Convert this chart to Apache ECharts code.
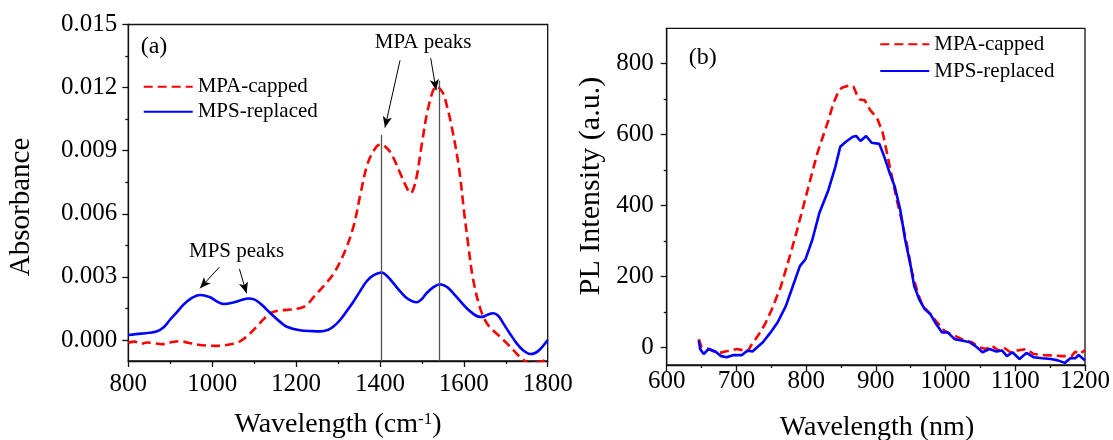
<!DOCTYPE html>
<html>
<head>
<meta charset="utf-8">
<script src="https://cdn.jsdelivr.net/npm/echarts@6/dist/echarts.min.js"></script>
<style>
  html, body { margin: 0; padding: 0; background: #fff; }
  #chart { width: 1113px; height: 440px; }
</style>
</head>
<body>
<div id="chart"></div>
<script>
// ---------- Panel (a): absorbance ----------
const aCappedX = [800,815,830,845,860,880,900,923,945,971,990,1011,1030,1050,1065,1074,1090,1106,1122,1138,1158,1178,1209,1225,1243,1265,1290,1316,1337,1354,1371,1392,1405,1415,1426,1437,1448,1460,1473,1486,1499,1516,1535,1550,1560,1571,1588,1601,1610,1622,1639,1655,1670,1686,1702,1718,1742,1760,1780,1800];
const aCappedY = [-0.00013,-0.00008,-0.00018,-0.00012,-0.00015,-0.00020,-0.00012,-0.00006,-0.00014,-0.00024,-0.00027,-0.00028,-0.00025,-0.00018,-0.00008,0.00003,0.00030,0.00063,0.00098,0.00127,0.00140,0.00143,0.00151,0.00165,0.00206,0.00255,0.00317,0.00420,0.00540,0.00698,0.00841,0.00920,0.00929,0.00915,0.00889,0.00845,0.00794,0.00740,0.00698,0.00762,0.00920,0.01111,0.01206,0.01175,0.01110,0.01016,0.00825,0.00603,0.00460,0.00290,0.00150,0.00079,0.00045,0.00016,-0.00015,-0.00048,-0.00095,-0.00112,-0.00105,-0.00092];
const aReplX = [800,830,867,885,899,915,931,950,971,995,1010,1027,1050,1070,1086,1100,1114,1130,1146,1162,1178,1209,1240,1257,1277,1290,1305,1320,1337,1352,1368,1385,1404,1418,1432,1446,1460,1475,1488,1500,1511,1527,1543,1560,1575,1590,1607,1622,1635,1645,1655,1670,1682,1694,1710,1726,1742,1758,1770,1782,1800];
const aReplY = [0.00024,0.00030,0.00040,0.00062,0.00095,0.00130,0.00167,0.00198,0.00214,0.00203,0.00185,0.00171,0.00178,0.00190,0.00197,0.00193,0.00175,0.00145,0.00114,0.00086,0.00063,0.00046,0.00042,0.00041,0.00049,0.00065,0.00095,0.00135,0.00183,0.00230,0.00278,0.00308,0.00321,0.00302,0.00270,0.00236,0.00206,0.00186,0.00179,0.00195,0.00222,0.00250,0.00265,0.00252,0.00222,0.00188,0.00151,0.00125,0.00111,0.00110,0.00119,0.00127,0.00115,0.00079,0.00030,-0.00016,-0.00050,-0.00067,-0.00062,-0.00044,0.00000];
const aYTicks = [0, 0.003, 0.006, 0.009, 0.012, 0.015];
const aYMinor = [0.0015, 0.0045, 0.0075, 0.0105, 0.0135];
// vertical peak markers (x, top value)
const peakLineX = [1404, 1541];
const peakLineTop = [0.00976, 0.01233];
// annotation arrows: [fromX, fromY, toX, toY]
const arrows = [
  [1448, 0.0133, 1412, 0.0101],
  [1521, 0.0134, 1534, 0.01187],
  [1017, 0.00346, 971, 0.00246],
  [1065, 0.00337, 1082, 0.00222]
];
const annoText = [
  ['MPA peaks', 1503, 0.01414],
  ['MPS peaks', 1058, 0.0042]
];

// ---------- Panel (b): PL ----------
const bReplX = [646,648,653,660,670,678,686,696,708,716,723,731,738,749,759,771,781,791,799,809,819,832,842,849,857,867,872,878,886,894,905,912,920,927,935,942,950,955,962,970,978,985,995,1003,1013,1023,1035,1045,1053,1063,1073,1081,1088,1096,1106,1116,1126,1139,1151,1161,1171,1179,1186,1191,1200];
const bReplY = [19,-5,-19,-5,-12,-25,-28,-22,-22,-9,-12,2,14,42,70,117,173,229,248,304,379,444,510,566,580,594,596,582,596,577,574,538,491,454,388,304,229,173,136,108,94,70,42,42,23,19,14,0,-14,-5,-12,-9,-25,-14,-33,-16,-28,-31,-33,-37,-44,-31,-31,-22,-37];
const bCappedX = [646,650,660,668,676,684,691,701,711,716,721,731,741,751,764,776,786,796,806,816,824,832,839,847,852,857,863,868,872,877,884,892,902,910,915,922,930,937,945,952,960,967,978,988,998,1008,1018,1028,1038,1048,1058,1066,1076,1083,1093,1103,1116,1126,1141,1153,1168,1181,1186,1191,1200];
const bCappedY = [23,0,-5,-12,-16,-12,-9,-5,-9,-12,5,33,65,108,173,253,323,398,473,547,594,641,688,725,733,736,739,735,716,699,697,669,646,604,557,491,416,360,285,211,154,117,94,70,47,37,28,19,14,0,-5,5,-9,0,-14,-9,-5,-19,-22,-23,-25,-25,-12,-19,-9];
const bYTicks = [0, 200, 400, 600, 800];
const bYMinor = [100, 300, 500, 700];

const FONT = "'Liberation Serif','Times New Roman',serif";
const RED = '#ff0000', BLUE = '#0000ff';
const DASH = [9, 5];
const zip = (xs, ys) => xs.map((x, i) => [x, ys[i]]);

const chart = echarts.init(document.getElementById('chart'), null, { renderer: 'canvas' });

const axisLineStyle = { color: '#111', width: 1.3 };
function xAxisDef(gi, min, max, interval, margin) {
  return {
    type: 'value', gridIndex: gi, min: min, max: max, interval: interval,
    axisLine: { show: true, onZero: false, lineStyle: axisLineStyle },
    axisTick: { show: true, inside: false, length: 6, lineStyle: axisLineStyle },
    minorTick: { show: true, splitNumber: 2, length: 3, lineStyle: axisLineStyle },
    splitLine: { show: false }, minorSplitLine: { show: false },
    axisLabel: { fontFamily: FONT, fontSize: 25, color: '#000', margin: margin, showMinLabel: true, showMaxLabel: true, formatter: v => String(v) }
  };
}
function yAxisDef(gi, min, max, ticks, fmt, margin) {
  return {
    type: 'value', gridIndex: gi, min: min, max: max, position: 'left',
    axisLine: { show: true, onZero: false, lineStyle: axisLineStyle },
    axisTick: { show: true, inside: false, length: 6, customValues: ticks, lineStyle: axisLineStyle },
    splitLine: { show: false },
    axisLabel: { fontFamily: FONT, fontSize: 25, color: '#000', margin: margin, customValues: ticks, formatter: fmt }
  };
}
function yMinorDef(gi, min, max, ticks) {
  return {
    type: 'value', gridIndex: gi, min: min, max: max, position: 'left', offset: 0,
    axisLine: { show: false },
    axisTick: { show: true, inside: false, length: 3, customValues: ticks, lineStyle: axisLineStyle },
    splitLine: { show: false },
    axisLabel: { show: false }
  };
}

const markLineData = [];
peakLineX.forEach((x, i) => {
  markLineData.push([
    { coord: [x, -0.001], symbol: 'none', lineStyle: { color: '#555', width: 1.3, type: 'solid' } },
    { coord: [x, peakLineTop[i]], symbol: 'none' }
  ]);
});
arrows.forEach(a => {
  markLineData.push([
    { coord: [a[0], a[1]], symbol: 'none', lineStyle: { color: '#000', width: 1, type: 'solid' } },
    { coord: [a[2], a[3]], symbol: 'arrow', symbolSize: [7, 11] }
  ]);
});

const legendCommon = {
  orient: 'vertical', itemWidth: 49, itemHeight: 21, padding: 0,
  selectedMode: false,
  itemStyle: { opacity: 0, borderWidth: 0 },
  textStyle: { fontFamily: FONT, fontSize: 21, color: '#000' },
  data: ['MPA-capped', 'MPS-replaced']
};

const option = {
  animation: false,
  backgroundColor: '#fff',
  grid: [
    { left: 128.3, top: 24.5, width: 419.4, height: 336.5, show: true, borderColor: '#111', borderWidth: 1.3, backgroundColor: 'transparent' },
    { left: 666.7, top: 28.3, width: 419.3, height: 336.7, show: true, borderColor: '#111', borderWidth: 1.3, backgroundColor: 'transparent' }
  ],
  xAxis: [
    xAxisDef(0, 800, 1800, 200, 11),
    xAxisDef(1, 600, 1200, 100, 4)
  ],
  yAxis: [
    yAxisDef(0, -0.001, 0.015, aYTicks, v => v.toFixed(3), 11),
    yMinorDef(0, -0.001, 0.015, aYMinor),
    yAxisDef(1, -50, 900, bYTicks, v => String(Math.round(v)), 13),
    yMinorDef(1, -50, 900, bYMinor)
  ],
  legend: [
    Object.assign({}, legendCommon, { left: 142.7, top: 76.2, itemGap: 4 }),
    Object.assign({}, legendCommon, { left: 879.3, top: 33.8, itemGap: 5.7 })
  ],
  series: [
    {
      name: 'MPA-capped', type: 'line', xAxisIndex: 0, yAxisIndex: 0,
      data: zip(aCappedX, aCappedY), smooth: 0.35, symbol: 'none', showSymbol: false,
      lineStyle: { color: RED, width: 2.6, type: DASH }, itemStyle: { color: RED }, z: 2
    },
    {
      name: 'MPS-replaced', type: 'line', xAxisIndex: 0, yAxisIndex: 0,
      data: zip(aReplX, aReplY), smooth: 0.35, symbol: 'none', showSymbol: false,
      lineStyle: { color: BLUE, width: 2.6 }, itemStyle: { color: BLUE }, z: 3,
      markLine: {
        silent: true, animation: false, symbol: ['none', 'none'],
        label: { show: false }, emphasis: { disabled: true },
        data: markLineData
      },
      markPoint: {
        silent: true, animation: false, symbol: 'circle', symbolSize: 0,
        itemStyle: { color: 'transparent' },
        label: { show: true, position: 'inside', formatter: '{b}', color: '#000', fontFamily: FONT, fontSize: 21 },
        data: annoText.map(t => ({ name: t[0], coord: [t[1], t[2]] }))
      }
    },
    {
      name: 'MPA-capped', type: 'line', xAxisIndex: 1, yAxisIndex: 2,
      data: zip(bCappedX, bCappedY), symbol: 'none', showSymbol: false,
      lineStyle: { color: RED, width: 2.6, type: DASH }, itemStyle: { color: RED }, z: 2
    },
    {
      name: 'MPS-replaced', type: 'line', xAxisIndex: 1, yAxisIndex: 2,
      data: zip(bReplX, bReplY), symbol: 'none', showSymbol: false,
      lineStyle: { color: BLUE, width: 2.6 }, itemStyle: { color: BLUE }, z: 3
    }
  ],
  graphic: [
    { type: 'text', x: 154, y: 46.7, style: { text: '(a)', font: '24px ' + FONT, fill: '#000', textAlign: 'center', textVerticalAlign: 'middle' } },
    { type: 'text', x: 702.8, y: 58, style: { text: '(b)', font: '24px ' + FONT, fill: '#000', textAlign: 'center', textVerticalAlign: 'middle' } },
    { type: 'text', x: 21.5, y: 207, rotation: Math.PI / 2, style: { text: 'Absorbance', font: '29px ' + FONT, fill: '#000', textAlign: 'center', textVerticalAlign: 'middle' } },
    { type: 'text', x: 591, y: 186, rotation: Math.PI / 2, style: { text: 'PL Intensity (a.u.)', font: '30px ' + FONT, fill: '#000', textAlign: 'center', textVerticalAlign: 'middle' } },
    { type: 'text', x: 338, y: 425, style: {
        text: '{a|Wavelength (cm}{s|-1}{a|)}', textAlign: 'center', textVerticalAlign: 'middle', fill: '#000',
        rich: { a: { fontFamily: FONT, fontSize: 28, color: '#000' }, s: { fontFamily: FONT, fontSize: 17, color: '#000', verticalAlign: 'top' } }
      } },
    { type: 'text', x: 877, y: 428, style: { text: 'Wavelength (nm)', font: '28px ' + FONT, fill: '#000', textAlign: 'center', textVerticalAlign: 'middle' } }
  ]
};
chart.setOption(option);
</script>
</body>
</html>
